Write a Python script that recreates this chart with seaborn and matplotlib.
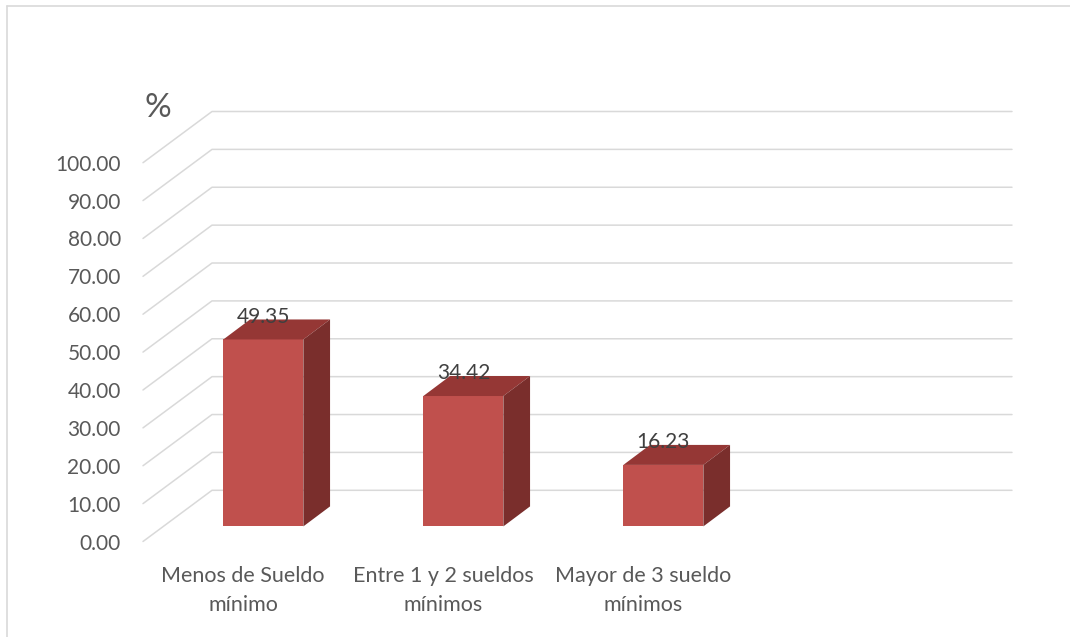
import matplotlib
matplotlib.use("Agg")
import matplotlib.pyplot as plt
import matplotlib.transforms as mtransforms
from matplotlib.patches import Polygon
from matplotlib.lines import Line2D
import pandas as pd
import seaborn as sns

# Datos
categorias = ["Menos de Sueldo\nmínimo", "Entre 1 y 2 sueldos\nmínimos", "Mayor de 3 sueldo\nmínimos"]
porcentajes = [49.35, 34.42, 16.23]
ticks_y = [0, 10, 20, 30, 40, 50, 60, 70, 80, 90, 100]

# Colores estilo Excel
rojo = "#C0504D"
rojo_arriba = "#953735"
rojo_lado = "#7A2E2C"
gris = "#D9D9D9"
texto = "#595959"

sns.set_theme(style="white")
plt.rcParams["font.family"] = ["Lato", "DejaVu Sans"]

W, H = 1070, 637
fig = plt.figure(figsize=(W / 100, H / 100), dpi=100)
# area del grafico (plano frontal + pared del fondo)
ax = fig.add_axes([143 / W, (H - 541.5) / H, 869 / W, 430.5 / H])

df = pd.DataFrame({"categoria": categorias, "porcentaje": porcentajes})
sns.barplot(data=df, x="categoria", y="porcentaje", color=rojo, width=0.4,
            saturation=1, errorbar=None, linewidth=0, ax=ax, zorder=3)

px_x = 200.0          # pixeles por categoria
px_y = 3.788          # pixeles por unidad
xmax = -0.5 + 869 / px_x
ax.set_xlim(-0.5, xmax)
ax.set_ylim(0, 430.5 / px_y)

# profundidad de la pared del fondo
DX, DY = 69 / px_x, 51.2 / px_y
# las barras estan a media profundidad
xo, yo = 0.295 * DX, 0.295 * DY
bdx, bdy = 26.7 / px_x, 20 / px_y

# cuadricula en "3D": diagonal en la pared izquierda + linea en el fondo
for v in ticks_y:
    ax.plot([-0.5, -0.5 + DX, xmax], [v, v + DY, v + DY], color=gris,
            lw=1.1, zorder=1, clip_on=False)

desplazar = mtransforms.Affine2D().translate(xo, yo) + ax.transData
for p in list(ax.patches):
    p.set_transform(desplazar)
    x0, w, h = p.get_x(), p.get_width(), p.get_height()
    x1 = x0 + w
    arriba = Polygon([(x0, h), (x1, h), (x1 + bdx, h + bdy), (x0 + bdx, h + bdy)],
                     closed=True, facecolor=rojo_arriba, edgecolor="none",
                     transform=desplazar, zorder=3)
    lado = Polygon([(x1, 0), (x1, h), (x1 + bdx, h + bdy), (x1 + bdx, bdy)],
                   closed=True, facecolor=rojo_lado, edgecolor="none",
                   transform=desplazar, zorder=3)
    ax.add_patch(arriba)
    ax.add_patch(lado)
    ax.text(x0 + w / 2, h + bdy - 0.9, f"{h:.2f}", transform=desplazar,
            ha="center", va="baseline", fontsize=15, color="#404040", zorder=4)

ax.set_yticks(ticks_y)
ax.set_yticklabels([f"{v:.2f}" for v in ticks_y])
ax.set_xticks(range(len(categorias)))
ax.set_xticklabels(categorias, linespacing=1.55)
ax.tick_params(axis="y", length=0, pad=16, labelsize=15, labelcolor=texto)
ax.tick_params(axis="x", length=0, pad=17.5, labelsize=15.5, labelcolor=texto)
ax.set_xlabel("")
ax.set_ylabel("")
sns.despine(ax=ax, left=True, bottom=True)

fig.text(145 / W, 1 - 108 / H, "%", fontsize=24, color=texto, ha="left", va="center")

# marco del grafico (solo se ve arriba y a la izquierda)
fig.add_artist(Line2D([6.5 / W, 1], [1 - 5.7 / H, 1 - 5.7 / H], color=gris,
                      lw=1.2, transform=fig.transFigure))
fig.add_artist(Line2D([6.7 / W, 6.7 / W], [0, 1 - 5.7 / H], color=gris,
                      lw=1.2, transform=fig.transFigure))

fig.savefig("out.png", dpi=100)
